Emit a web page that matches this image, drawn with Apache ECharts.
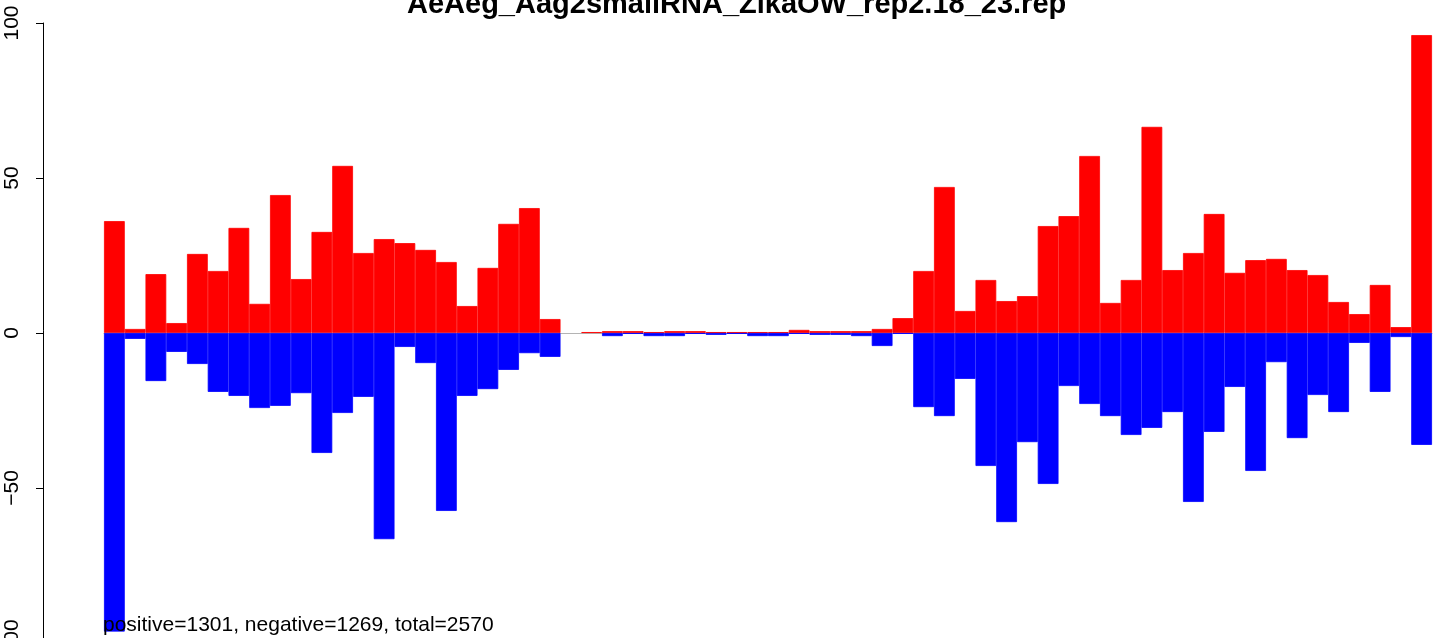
<!DOCTYPE html>
<html>
<head>
<meta charset="utf-8">
<script src="https://cdn.jsdelivr.net/npm/echarts@6/dist/echarts.min.js"></script>
<style>
html,body{margin:0;padding:0;background:#fff;}
#chart{width:1439px;height:638px;}
</style>
</head>
<body>
<div id="chart"></div>
<script>
const titleText = 'AeAeg_Aag2smallRNA_ZikaOW_rep2.18_23.rep';
const footText = 'positive=1301, negative=1269, total=2570';

const categories = [
  '1','2','3','4','5','6','7','8','9','10','11','12','13','14','15','16',
  '17','18','19','20','21','22','23','24','25','26','27','28','29','30','31','32',
  '33','34','35','36','37','38','39','40','41','42','43','44','45','46','47','48',
  '49','50','51','52','53','54','55','56','57','58','59','60','61','62','63','64'
];

const positiveValues = [
  36.1, 1.3, 19.0, 3.2, 25.5, 20.0, 33.9, 9.4, 44.5, 17.4, 32.6, 53.9, 25.8, 30.3, 29.0, 26.8,
  22.9, 8.7, 21.0, 35.2, 40.3, 4.5, 0, 0.3, 0.6, 0.6, 0.3, 0.6, 0.6, 0.3, 0.3, 0.3,
  0.3, 1.0, 0.6, 0.6, 0.6, 1.3, 4.8, 20.0, 47.1, 7.1, 17.1, 10.3, 11.9, 34.5, 37.7, 57.1,
  9.7, 17.1, 66.5, 20.3, 25.8, 38.4, 19.4, 23.5, 23.9, 20.3, 18.7, 10.0, 6.1, 15.5, 1.9, 96.1
];

const negativeValues = [
  -96.3, -1.9, -15.5, -6.1, -10.0, -19.0, -20.3, -24.2, -23.5, -19.4, -38.7, -25.8, -20.6, -66.5, -4.5, -9.7,
  -57.4, -20.3, -18.1, -11.9, -6.5, -7.7, 0, 0, -1.0, -0.3, -1.0, -1.0, -0.3, -0.6, -0.3, -1.0,
  -1.0, -0.3, -0.6, -0.6, -1.0, -4.2, -0.3, -23.9, -26.8, -14.8, -42.9, -61.0, -35.2, -48.7, -17.1, -22.9,
  -26.8, -32.9, -30.6, -25.5, -54.5, -31.9, -17.4, -44.5, -9.4, -33.9, -20.0, -25.5, -3.2, -19.0, -1.3, -36.1
];

const yTicks = [-100, -50, 0, 50, 100];
const yTickLabels = ['\u2212100', '\u221250', '0', '50', '100'];

const FONT = '"Liberation Sans", Arial, Helvetica, sans-serif';

// empty bins are left undrawn (no zero-height bar outline)
const skipZero = v => (v === 0 ? null : v);

const chart = echarts.init(document.getElementById('chart'), null, {renderer: 'canvas'});
chart.setOption({
  animation: false,
  backgroundColor: '#ffffff',
  title: [
    {
      text: titleText,
      left: 407,
      top: -10,
      padding: 0,
      textStyle: {fontFamily: FONT, fontSize: 29, fontWeight: 'bold', color: '#000'}
    },
    {
      text: footText,
      left: 103,
      top: 615,
      padding: 0,
      textStyle: {fontFamily: FONT, fontSize: 21, fontWeight: 'normal', color: '#000'}
    }
  ],
  grid: {left: 104, right: 7, top: 23, height: 620, containLabel: false, outerBoundsMode: 'none'},
  xAxis: {
    type: 'category',
    data: categories,
    axisLine: {show: true, onZero: true, lineStyle: {color: '#b4b4b4', width: 1}},
    axisTick: {show: false},
    axisLabel: {show: false},
    splitLine: {show: false}
  },
  yAxis: {
    type: 'value',
    min: -100,
    max: 100,
    interval: 50,
    offset: 61,
    axisLine: {show: true, lineStyle: {color: '#000', width: 1}},
    axisTick: {show: true, length: 7, lineStyle: {color: '#000', width: 1}},
    splitLine: {show: false},
    axisLabel: {
      rotate: 90,
      margin: 20,
      fontFamily: FONT,
      fontSize: 21,
      color: '#000',
      formatter: function (v) {
        const i = yTicks.indexOf(v);
        return i >= 0 ? yTickLabels[i] : '';
      }
    }
  },
  series: [
    {
      name: 'positive',
      type: 'bar',
      data: positiveValues.map(skipZero),
      barCategoryGap: '0%',
      barGap: '-100%',
      itemStyle: {color: '#ff0000', borderColor: '#ff0000', borderWidth: 0.8}
    },
    {
      name: 'negative',
      type: 'bar',
      data: negativeValues.map(skipZero),
      barCategoryGap: '0%',
      barGap: '-100%',
      itemStyle: {color: '#0000ff', borderColor: '#0000ff', borderWidth: 0.8}
    }
  ]
});
</script>
</body>
</html>
